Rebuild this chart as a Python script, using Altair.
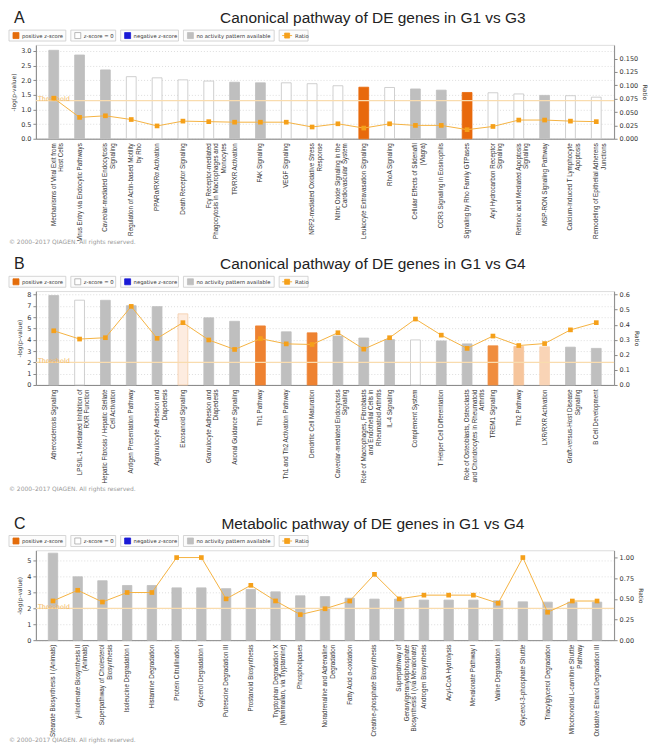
import altair as alt
import pandas as pd

# ---------------- Panel A ----------------
A_TITLE = "Canonical pathway of DE genes in G1 vs G3"
A_NAMES = [
    "Mechanisms of Viral Exit from|Host Cells",
    "Virus Entry via Endocytic Pathways",
    "Caveolar-mediated Endocytosis|Signaling",
    "Regulation of Actin-based Motility|by Rho",
    "PPARα/RXRα Activation",
    "Death Receptor Signaling",
    "Fcγ Receptor-mediated|Phagocytosis in Macrophages and|Monocytes",
    "TR/RXR Activation",
    "FAK Signaling",
    "VEGF Signaling",
    "NRF2-mediated Oxidative Stress|Response",
    "Nitric Oxide Signaling in the|Cardiovascular System",
    "Leukocyte Extravasation Signaling",
    "RhoA Signaling",
    "Cellular Effects of Sildenafil|(Viagra)",
    "CCR3 Signaling in Eosinophils",
    "Signaling by Rho Family GTPases",
    "Aryl Hydrocarbon Receptor|Signaling",
    "Retinoic acid Mediated Apoptosis|Signaling",
    "MSP-RON Signaling Pathway",
    "Calcium-induced T Lymphocyte|Apoptosis",
    "Remodeling of Epithelial Adherens|Junctions",
]
A_LOGP = [3.02, 2.86, 2.35, 2.12, 2.08, 2.01, 1.97, 1.93, 1.91, 1.91, 1.88,
          1.81, 1.76, 1.75, 1.70, 1.66, 1.58, 1.57, 1.53, 1.48, 1.47, 1.42]
A_RATIO = [0.076, 0.040, 0.043, 0.036, 0.024, 0.033, 0.032, 0.031, 0.031, 0.031, 0.022,
           0.028, 0.020, 0.028, 0.025, 0.025, 0.017, 0.023, 0.035, 0.035, 0.033, 0.032]
A_ACT = ["na", "na", "na", "zero", "zero", "zero", "zero", "na", "na", "zero", "zero",
         "zero", "pos", "zero", "na", "na", "pos", "zero", "zero", "na", "zero", "zero"]
A_THRESH = 1.3

# ---------------- Panel B ----------------
B_TITLE = "Canonical pathway of DE genes in G1 vs G4"
B_NAMES = [
    "Atherosclerosis Signaling",
    "LPS/IL-1 Mediated Inhibition of|RXR Function",
    "Hepatic Fibrosis / Hepatic Stellate|Cell Activation",
    "Antigen Presentation Pathway",
    "Agranulocyte Adhesion and|Diapedesis",
    "Eicosanoid Signaling",
    "Granulocyte Adhesion and|Diapedesis",
    "Axonal Guidance Signaling",
    "Th1 Pathway",
    "Th1 and Th2 Activation Pathway",
    "Dendritic Cell Maturation",
    "Caveolar-mediated Endocytosis|Signaling",
    "Role of Macrophages, Fibroblasts|and Endothelial Cells in|Rheumatoid Arthritis",
    "IL-4 Signaling",
    "Complement System",
    "T Helper Cell Differentiation",
    "Role of Osteoblasts, Osteoclasts|and Chondrocytes in Rheumatoid|Arthritis",
    "TREM1 Signaling",
    "Th2 Pathway",
    "LXR/RXR Activation",
    "Graft-versus-Host Disease|Signaling",
    "B Cell Development",
]
B_LOGP = [7.92, 7.51, 7.50, 7.02, 6.94, 6.30, 5.95, 5.64, 5.23, 4.71, 4.62,
          4.34, 4.16, 4.02, 3.99, 3.90, 3.64, 3.47, 3.41, 3.38, 3.35, 3.24]
B_RATIO = [0.360, 0.305, 0.314, 0.522, 0.310, 0.414, 0.299, 0.236, 0.308, 0.273, 0.269,
           0.347, 0.238, 0.314, 0.438, 0.331, 0.243, 0.325, 0.262, 0.275, 0.366, 0.414]
B_ACT = ["na", "zero", "na", "na", "na", "pos_l3", "na", "na", "pos_b1", "na", "pos_b1",
         "na", "na", "na", "zero", "na", "na", "pos_b2", "pos_l1", "pos_l2", "na", "na"]
B_THRESH = 2.0

# ---------------- Panel C ----------------
C_TITLE = "Metabolic pathway of DE genes in G1 vs G4"
C_NAMES = [
    "Stearate Biosynthesis I (Animals)",
    "γ-linolenate Biosynthesis II|(Animals)",
    "Superpathway of Cholesterol|Biosynthesis",
    "Isoleucine Degradation I",
    "Histamine Degradation",
    "Protein Citrullination",
    "Glycerol Degradation I",
    "Putrescine Degradation III",
    "Prostanoid Biosynthesis",
    "Tryptophan Degradation X|(Mammalian, via Tryptamine)",
    "Phospholipases",
    "Noradrenaline and Adrenaline|Degradation",
    "Fatty Acid α-oxidation",
    "Creatine-phosphate Biosynthesis",
    "Superpathway of|Geranylgeranyldiphosphate|Biosynthesis I (via Mevalonate)",
    "Androgen Biosynthesis",
    "Acyl-CoA Hydrolysis",
    "Mevalonate Pathway I",
    "Valine Degradation I",
    "Glycerol-3-phosphate Shuttle",
    "Triacylglycerol Degradation",
    "Mitochondrial L-carnitine Shuttle|Pathway",
    "Oxidative Ethanol Degradation III",
]
C_LOGP = [5.49, 4.00, 3.75, 3.45, 3.45, 3.30, 3.30, 3.25, 3.20, 3.05, 2.80, 2.75,
          2.65, 2.59, 2.59, 2.53, 2.53, 2.53, 2.49, 2.42, 2.40, 2.40, 2.40]
C_RATIO = [0.475, 0.604, 0.462, 0.577, 0.577, 1.0, 1.0, 0.50, 0.664, 0.475, 0.31, 0.38,
           0.474, 0.797, 0.50, 0.545, 0.545, 0.545, 0.447, 1.0, 0.338, 0.474, 0.474]
C_ACT = ["na"] * 23
C_THRESH = 2.0

LEGEND_LABELS = ["positive z-score", "z-score = 0", "negative z-score",
                 "no activity pattern available", "Ratio"]
COPYRIGHT = "© 2000–2017 QIAGEN. All rights reserved."

# ---------------- styling ----------------
FONT_T = "Liberation Sans"
FONT_S = "DejaVu Sans"
FILL = {"pos": "#e8690c", "pos_b1": "#ee8231", "pos_b2": "#f08d3e", "pos_l1": "#f6c59c",
        "pos_l2": "#f9d4b6", "pos_l3": "#fdece0", "zero": "#ffffff", "na": "#bfbfbf"}
STROKE = {"pos": "#e8690c", "pos_b1": "#ee8231", "pos_b2": "#f08d3e", "pos_l1": "#f6c59c",
          "pos_l2": "#f9d4b6", "pos_l3": "#f4cda9", "zero": "#c4c4c4", "na": "#bfbfbf"}
W = 580


def pad_label(s):
    lines = s.split("|")
    m = max(len(l) for l in lines)
    return "|".join(l + "\u00a0" * round((m - len(l)) * 0.9) for l in lines)


def legend_layers(y0):
    widths = [57, 45, 58, 91, 29]
    gap = 5
    h = 11
    x = -27
    boxes, syms, txts = [], [], []
    sym_fill = ["#e46c0a", "#ffffff", "#1a1ad6", "#bfbfbf"]
    sym_stroke = ["#e46c0a", "#a8a8a8", "#1a1ad6", "#bfbfbf"]
    rl = None
    for i, (lab, w) in enumerate(zip(LEGEND_LABELS, widths)):
        boxes.append({"x": x, "x2": x + w, "y": y0, "y2": y0 + h})
        if i < 4:
            syms.append({"x": x + 4, "x2": x + 10, "y": y0 + 2.5, "y2": y0 + 8.5,
                         "f": sym_fill[i], "s": sym_stroke[i]})
            txts.append({"x": x + 13, "y": y0 + h / 2, "t": lab})
        else:
            rl = {"x": x + 3, "x2": x + 13, "y": y0 + h / 2}
            syms.append({"x": x + 5.5, "x2": x + 10.5, "y": y0 + 3, "y2": y0 + 8,
                         "f": "#f5a01a", "s": "#f5a01a"})
            txts.append({"x": x + 16, "y": y0 + h / 2, "t": lab})
        x += w + gap
    X = lambda f: alt.X(f, scale=None, axis=None)
    Y = lambda f: alt.Y(f, scale=None, axis=None)
    box_l = alt.Chart(pd.DataFrame(boxes)).mark_rect(
        fill="#fcfcfc", stroke="#cccccc", strokeWidth=0.8).encode(
        x=X("x:Q"), x2="x2:Q", y=Y("y:Q"), y2="y2:Q")
    line_l = alt.Chart(pd.DataFrame([rl])).mark_rule(color="#f5b342", strokeWidth=1).encode(
        x=X("x:Q"), x2="x2:Q", y=Y("y:Q"))
    sym_l = alt.Chart(pd.DataFrame(syms)).mark_rect(strokeWidth=0.8).encode(
        x=X("x:Q"), x2="x2:Q", y=Y("y:Q"), y2="y2:Q",
        fill=alt.Fill("f:N", scale=None), stroke=alt.Stroke("s:N", scale=None))
    txt_l = alt.Chart(pd.DataFrame(txts)).mark_text(
        align="left", baseline="middle", font=FONT_S, fontSize=5.3, color="#333333").encode(
        x=X("x:Q"), y=Y("y:Q"), text="t:N")
    return [box_l, line_l, sym_l, txt_l]


def text_layer(rows, **kw):
    X = alt.X("x:Q", scale=None, axis=None)
    Y = alt.Y("y:Q", scale=None, axis=None)
    return alt.Chart(pd.DataFrame(rows)).mark_text(**kw).encode(x=X, y=Y, text="t:N")


def panel(letter, title, names, logp, ratio, act, thresh,
          ldom, lvals, lfmt, rdom, rvals, rfmt, H, copy_dy=104):
    labels = [pad_label(n) for n in names]
    df = pd.DataFrame({"name": labels, "logp": logp, "ratio": ratio, "act": act,
                       "i": list(range(len(labels)))})
    xenc = alt.X("name:N", sort=None,
                 scale=alt.Scale(domain=labels, paddingInner=0.62, paddingOuter=0.5),
                 axis=alt.Axis(title=None, labelAngle=-90, labelAlign="right",
                               labelBaseline="middle",
                               labelExpr="split(datum.label, '|')",
                               labelFont=FONT_T, labelFontSize=6.3, labelLineHeight=7.6,
                               labelColor="#333333", labelPadding=4, labelLimit=300,
                               labelOverlap=False, ticks=False,
                               domainColor="#8a8a8a", domainWidth=1))
    yL = alt.Y("logp:Q", scale=alt.Scale(domain=ldom, nice=False, zero=True),
               axis=alt.Axis(orient="left", title="-log(p-value)", values=lvals, format=lfmt,
                             grid=True, gridColor="#d6d6d6", gridDash=[1, 2], gridWidth=0.8,
                             tickSize=3, tickColor="#8a8a8a", domainColor="#8a8a8a",
                             labelFont=FONT_S, labelFontSize=6.5, labelColor="#333333",
                             labelPadding=2, titleFont=FONT_S, titleFontSize=6,
                             titleFontWeight="normal", titleColor="#333333", titlePadding=4))
    yR = alt.Y("ratio:Q", scale=alt.Scale(domain=rdom, nice=False, zero=True),
               axis=alt.Axis(orient="right", title="Ratio", values=rvals, format=rfmt,
                             grid=False, tickSize=3, tickColor="#8a8a8a",
                             domainColor="#8a8a8a", labelFont=FONT_S, labelFontSize=6.5,
                             labelColor="#333333", labelPadding=2, titleFont=FONT_S,
                             titleFontSize=6, titleFontWeight="normal",
                             titleColor="#333333", titlePadding=4))
    bars = alt.Chart(df).mark_bar(strokeWidth=0.8).encode(
        x=xenc, y=yL,
        color=alt.Color("act:N", scale=alt.Scale(domain=list(FILL), range=list(FILL.values())),
                        legend=None),
        stroke=alt.Stroke("act:N",
                          scale=alt.Scale(domain=list(STROKE), range=list(STROKE.values())),
                          legend=None))
    tdf = pd.DataFrame({"logp": [thresh], "lab": ["Threshold"]})
    rule = alt.Chart(tdf).mark_rule(color="#f9dcae", strokeWidth=1.3).encode(y=yL)
    ttext = alt.Chart(tdf).mark_text(align="left", baseline="bottom", dx=2, dy=1.5,
                                     font=FONT_S, fontSize=6.5, color="#f3b864").encode(
        x=alt.value(0), y=yL, text="lab:N")
    line = alt.Chart(df).mark_line(color="#f5b342", strokeWidth=1).encode(
        x=xenc, y=yR, order="i:Q")
    pts = alt.Chart(df).mark_point(shape="square", filled=True, size=22, opacity=1,
                                   color="#f5a01a").encode(x=xenc, y=yR)
    left = alt.layer(bars, rule, ttext)
    right = alt.layer(line, pts)
    letter_l = text_layer([{"x": -22, "y": -27, "t": letter}], align="left", baseline="middle",
                          font=FONT_T, fontSize=16, color="#222222")
    title_l = text_layer([{"x": 338, "y": -27, "t": title}], align="center", baseline="middle",
                         font=FONT_T, fontSize=15.5, color="#222222")
    copy_l = text_layer([{"x": -27, "y": H + copy_dy, "t": COPYRIGHT}], align="left",
                        baseline="middle", font=FONT_S, fontSize=6, color="#9a9a9a")
    return alt.layer(left, right, letter_l, title_l, *legend_layers(-15), copy_l).resolve_scale(
        y="independent").properties(width=W, height=H)


pA = panel("A", A_TITLE, A_NAMES, A_LOGP, A_RATIO, A_ACT, A_THRESH,
           [0, 3.2], [0, 0.5, 1, 1.5, 2, 2.5, 3], ".1f",
           [0, 0.1755], [0, 0.025, 0.05, 0.075, 0.1, 0.125, 0.15], ".3f", 94)
pB = panel("B", B_TITLE, B_NAMES, B_LOGP, B_RATIO, B_ACT, B_THRESH,
           [0, 8.3], [0, 1, 2, 3, 4, 5, 6, 7, 8], "d",
           [0, 0.6225], [0, 0.1, 0.2, 0.3, 0.4, 0.5, 0.6], ".1f", 94)
pC = panel("C", C_TITLE, C_NAMES, C_LOGP, C_RATIO, C_ACT, C_THRESH,
           [0, 5.66], [0, 1, 2, 3, 4, 5], "d",
           [0, 1.086], [0, 0.25, 0.5, 0.75, 1.0], ".2f", 90, copy_dy=100)

chart = alt.vconcat(alt.vconcat(pA, pB, spacing=9), pC, spacing=22).properties(
    padding=0, background="white").configure_view(stroke="#d4d4d4", strokeWidth=0.8)

chart.save("out.html", embed_options={"renderer": "svg", "actions": False})
